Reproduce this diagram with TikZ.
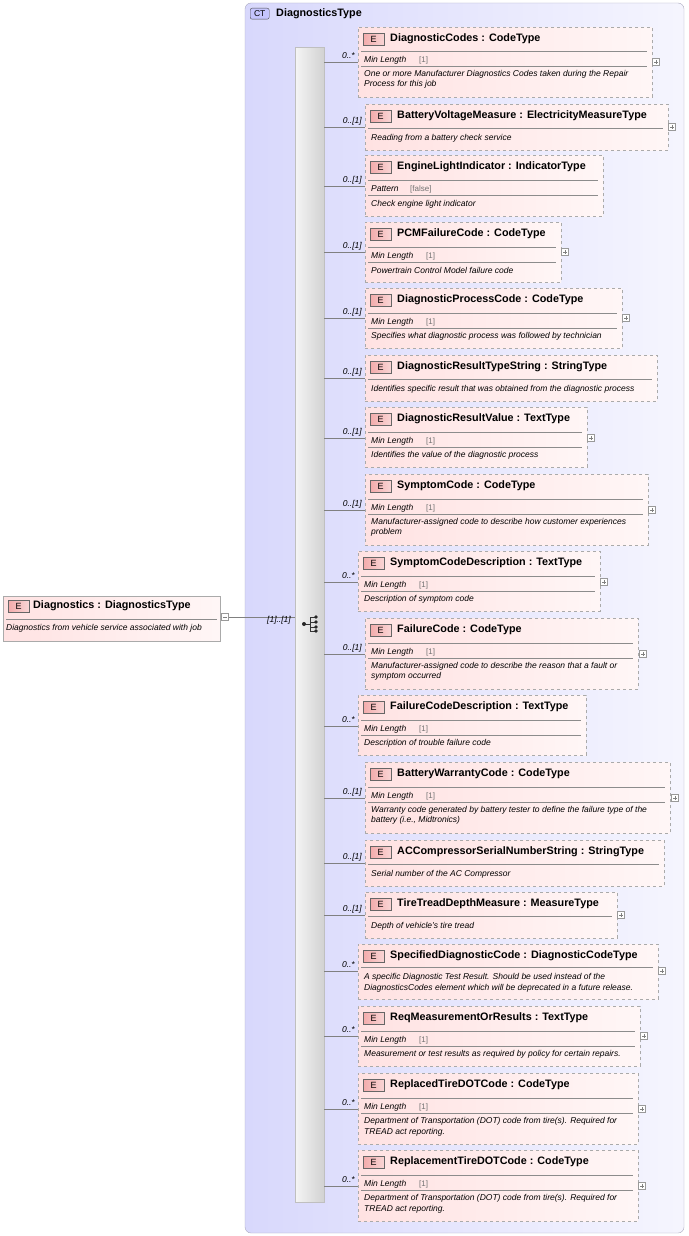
\documentclass[tikz,border=0pt]{standalone}
\usepackage{fontspec}
\setmainfont{Liberation Sans}
\usetikzlibrary{shadows}
\definecolor{ebord}{RGB}{170,170,170}
\definecolor{efill}{RGB}{255,226,226}
\definecolor{ctfill}{RGB}{216,216,252}
\definecolor{ctbord}{RGB}{170,170,190}
\definecolor{badge}{RGB}{240,150,150}
\tikzset{
 ebox/.style={draw=ebord,dashed,left color=efill,right color=white!70!efill,inner sep=0,anchor=north west},
 sbox/.style={draw=ebord,left color=efill,right color=white!70!efill,inner sep=0,anchor=north west},
 eb/.style={draw=black!60,left color=badge!80,right color=badge!40,inner sep=0,minimum width=21pt,minimum height=12pt,font=\fontsize{9}{9}\selectfont,anchor=north west},
 ttl/.style={anchor=west,inner sep=0,font=\bfseries\fontsize{10.8}{11}\selectfont},
 dsc/.style={anchor=west,inner sep=0,font=\itshape\fontsize{8.5}{9}\selectfont},
 fct/.style={anchor=west,inner sep=0,font=\itshape\fontsize{8.5}{9}\selectfont},
 fv/.style={anchor=west,inner sep=0,font=\fontsize{8}{9}\selectfont,text=black!55},
 mult/.style={anchor=east,inner sep=0,font=\itshape\fontsize{8.5}{9}\selectfont},
 sep/.style={draw=black!45,line width=0.5pt},
 pl/.style={draw=black!40,fill=white,minimum size=7pt,inner sep=0},
 con/.style={draw=black!50,line width=0.5pt}
}
\newcommand{\elem}[9]{%
 \node[ebox,minimum width=#3-#2,minimum height=#5-#4] (#1) at (#2,#4) {};
 \node[eb] (#1b) at (#2+5,#4+6) {E};
 \node[ttl] (#1t) at (#2+32,#4+12) {#6 : #7};
 \coordinate (#1c) at (#2,#9);
 \draw[con] (bar.east |- #1c) -- (#1c);
 \node[mult] (#1m) at (#2-3,#9-6) {#8};
}
\newcommand{\hl}[3]{\draw[sep] (#1+3,#3) -- (#2-5,#3);}
\newcommand{\ds}[3]{\node[dsc] at (#1+6,#2) {#3};}
\newcommand{\ml}[2]{\node[fct] at (#1+6,#2) {Min Length}; \node[fv] at (#1+61,#2) {[1]};}
\newcommand{\plus}[3]{\node[pl] (#1p) at (#2+4,#3) {}; \draw[black!50] (#2+2,#3)--(#2+6,#3) (#2+4,#3-2)--(#2+4,#3+2);}
\begin{document}
\begin{tikzpicture}[x=1pt,y=-1pt]
\useasboundingbox (0,0) rectangle (688,1236);
% container
\draw[ctbord,rounded corners=6pt,left color=ctfill,right color=ctfill!25] (245,3) rectangle (684,1233);
\node[draw=black!70,rounded corners=2pt,fill=ctfill!80!blue!70,inner sep=0,minimum width=19pt,minimum height=11pt,font=\fontsize{8.5}{9}\selectfont,anchor=north west] (ct) at (250,8) {CT};
\node[ttl] (ctt) at (276,14) {DiagnosticsType};
% sequence bar
\node[draw=black!25,left color=black!4,right color=black!18,minimum width=29pt,minimum height=1155pt,inner sep=0,anchor=north west] (bar) at (295,47) {};
% sequence icon
\draw[black!80,line width=0.8pt] (304,624)--(310,624) (310,617)--(310,631) (310,617)--(316,617) (310,622)--(316,622) (310,627)--(316,627) (310,631)--(316,631);
\fill[black!85] (304,624) circle (2pt) (316,617) circle (1.8pt) (316,622) circle (1.8pt) (316,627) circle (1.8pt) (316,631) circle (1.8pt);
% root element
\node[sbox,minimum width=217pt,minimum height=45pt,drop shadow={opacity=0.2,shadow xshift=1pt,shadow yshift=-1pt}] (root) at (3,596) {};
\node[eb] (rootb) at (8,600) {E};
\node[ttl] (roott) at (33,606) {Diagnostics : DiagnosticsType};
\draw[sep] (6,619)--(217,619);
\node[dsc] at (6,628) {Diagnostics from vehicle service associated with job};
\node[pl] (rminus) at (225,617) {}; \draw[black!50] (223,617)--(227,617);
\draw[con] (rminus.east) -- (bar.west |- rminus.east);
\node[mult] at (291,620) {[1]..[1]};
% 1
\elem{a}{358}{652}{27}{97}{DiagnosticCodes}{CodeType}{0..*}{62}
\hl{358}{652}{51}\ml{358}{60}\hl{358}{652}{66}
\ds{358}{74}{One or more Manufacturer Diagnostics Codes taken during the Repair}\ds{358}{84}{Process for this job}
\plus{a}{652}{62}
% 2
\elem{b}{365}{668}{104}{150}{BatteryVoltageMeasure}{ElectricityMeasureType}{0..[1]}{127}
\hl{365}{668}{128}\ds{365}{138}{Reading from a battery check service}\plus{b}{668}{127}
% 3
\elem{c}{365}{603}{155}{216}{EngineLightIndicator}{IndicatorType}{0..[1]}{186}
\hl{365}{603}{180}\node[fct] at (371,189) {Pattern};\node[fv] at (410,189) {[false]};\hl{365}{603}{195}\ds{365}{204}{Check engine light indicator}
% 4
\elem{d}{365}{561}{222}{282}{PCMFailureCode}{CodeType}{0..[1]}{252}
\hl{365}{561}{247}\ml{365}{256}\hl{365}{561}{262}\ds{365}{270}{Powertrain Control Model failure code}\plus{d}{561}{252}
% 5
\elem{e}{365}{622}{288}{348}{DiagnosticProcessCode}{CodeType}{0..[1]}{318}
\hl{365}{622}{313}\ml{365}{322}\hl{365}{622}{328}\ds{365}{336}{Specifies what diagnostic process was followed by technician}\plus{e}{622}{318}
% 6
\elem{f}{365}{657}{355}{401}{DiagnosticResultTypeString}{StringType}{0..[1]}{378}
\hl{365}{657}{379}\ds{365}{389}{Identifies specific result that was obtained from the diagnostic process}
% 7
\elem{g}{365}{587}{407}{467}{DiagnosticResultValue}{TextType}{0..[1]}{438}
\hl{365}{587}{432}\ml{365}{441}\hl{365}{587}{447}\ds{365}{455}{Identifies the value of the diagnostic process}\plus{g}{587}{438}
% 8
\elem{h}{365}{648}{474}{545}{SymptomCode}{CodeType}{0..[1]}{510}
\hl{365}{648}{499}\ml{365}{508}\hl{365}{648}{514}\ds{365}{522}{Manufacturer-assigned code to describe how customer experiences}\ds{365}{532}{problem}\plus{h}{648}{510}
% 9
\elem{i}{358}{600}{551}{611}{SymptomCodeDescription}{TextType}{0..*}{582}
\hl{358}{600}{576}\ml{358}{585}\hl{358}{600}{591}\ds{358}{599}{Description of symptom code}\plus{i}{600}{582}
% 10
\elem{j}{365}{638}{618}{689}{FailureCode}{CodeType}{0..[1]}{654}
\hl{365}{638}{643}\ml{365}{652}\hl{365}{638}{658}\ds{365}{666}{Manufacturer-assigned code to describe the reason that a fault or}\ds{365}{676}{symptom occurred}\plus{j}{639}{654}
% 11
\elem{k}{358}{586}{695}{755}{FailureCodeDescription}{TextType}{0..*}{726}
\hl{358}{586}{720}\ml{358}{729}\hl{358}{586}{735}\ds{358}{743}{Description of trouble failure code}
% 12
\elem{l}{365}{670}{762}{833}{BatteryWarrantyCode}{CodeType}{0..[1]}{798}
\hl{365}{670}{787}\ml{365}{796}\hl{365}{670}{802}\ds{365}{810}{Warranty code generated by battery tester to define the failure type of the}\ds{365}{820}{battery (i.e., Midtronics)}\plus{l}{671}{798}
% 13
\elem{m}{365}{664}{840}{886}{ACCompressorSerialNumberString}{StringType}{0..[1]}{863}
\hl{365}{664}{864}\ds{365}{874}{Serial number of the AC Compressor}
% 14
\elem{n}{365}{617}{892}{938}{TireTreadDepthMeasure}{MeasureType}{0..[1]}{915}
\hl{365}{617}{916}\ds{365}{926}{Depth of vehicle's tire tread}\plus{n}{617}{915}
% 15
\elem{o}{358}{658}{944}{999}{SpecifiedDiagnosticCode}{DiagnosticCodeType}{0..*}{971}
\hl{358}{658}{967}\ds{358}{977}{A specific Diagnostic Test Result. Should be used instead of the}\ds{358}{988}{DiagnosticsCodes element which will be deprecated in a future release.}\plus{o}{658}{971}
% 16
\elem{p}{358}{640}{1006}{1066}{ReqMeasurementOrResults}{TextType}{0..*}{1036}
\hl{358}{640}{1031}\ml{358}{1040}\hl{358}{640}{1046}\ds{358}{1054}{Measurement or test results as required by policy for certain repairs.}\plus{p}{640}{1036}
% 17
\elem{q}{358}{638}{1073}{1144}{ReplacedTireDOTCode}{CodeType}{0..*}{1109}
\hl{358}{638}{1098}\ml{358}{1107}\hl{358}{638}{1113}\ds{358}{1121}{Department of Transportation (DOT) code from tire(s). Required for}\ds{358}{1132}{TREAD act reporting.}\plus{q}{638}{1109}
% 18
\elem{r}{358}{638}{1150}{1221}{ReplacementTireDOTCode}{CodeType}{0..*}{1186}
\hl{358}{638}{1175}\ml{358}{1184}\hl{358}{638}{1190}\ds{358}{1198}{Department of Transportation (DOT) code from tire(s). Required for}\ds{358}{1209}{TREAD act reporting.}\plus{r}{638}{1186}
\end{tikzpicture}
\end{document}
